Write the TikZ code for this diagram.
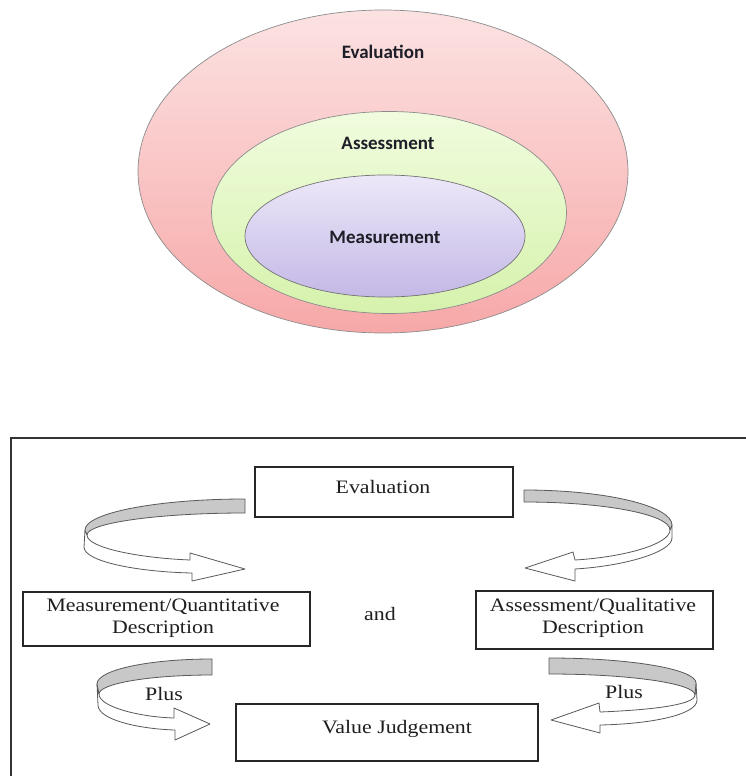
\documentclass[tikz,border=0pt]{standalone}
\usepackage{fontspec}
\setmainfont{Liberation Serif}
\newfontfamily\calib{Carlito}
\newfontfamily\tserif[FakeStretch=1.15]{Liberation Serif}
\definecolor{pinkT}{RGB}{252,226,226}
\definecolor{pinkB}{RGB}{247,168,168}
\definecolor{greenT}{RGB}{240,252,222}
\definecolor{greenB}{RGB}{214,242,172}
\definecolor{purpT}{RGB}{236,232,248}
\definecolor{purpB}{RGB}{196,184,230}
\definecolor{ribgray}{RGB}{200,200,200}
\definecolor{inkc}{RGB}{30,30,40}
\tikzset{
  ellline/.style={draw=black!45, line width=0.7pt},
  toplbl/.style={font=\calib\bfseries\fontsize{19}{22}\selectfont, text=inkc, inner sep=0},
  box/.style={draw=black!85, line width=1.4pt, rectangle, inner sep=0},
  txt/.style={font=\tserif\fontsize{19}{22}\selectfont, text=black!88, inner sep=0, align=center},
  ribback/.style={fill=ribgray, draw=black!65, line width=0.8pt, line join=round},
  ribfront/.style={fill=white, draw=black!65, line width=0.8pt, line join=round},
  frame/.style={draw=black!80, line width=1.3pt}
}
\begin{document}
\begin{tikzpicture}[x=1pt,y=-1pt]
\useasboundingbox (0,0) rectangle (746,776);
\fill[white] (0,0) rectangle (746,776);

% nested ellipses
\path[ellline, top color=pinkT, bottom color=pinkB] (383,171.5) ellipse [x radius=245pt, y radius=161.5pt];
\path[ellline, top color=greenT, bottom color=greenB] (389,212.5) ellipse [x radius=177.5pt, y radius=101pt];
\path[ellline, draw=black!55, top color=purpT, bottom color=purpB] (385,236) ellipse [x radius=140pt, y radius=61pt];
\node[toplbl] (lEval) at (383,52) {Evaluation};
\node[toplbl] (lAss) at (388,143) {Assessment};
\node[toplbl] (lMeas) at (385,237) {Measurement};

% frame
\coordinate (fr1) at (746,438);
\coordinate (fr2) at (11,438);
\coordinate (fr3) at (11,776);
\draw[frame] (fr1) -- (fr2) -- (fr3);

% boxes
\node[box, minimum width=258pt, minimum height=50pt] (bEval) at (384,492) {};
\node[box, minimum width=287pt, minimum height=54pt] (bMeas) at (166.5,619) {};
\node[box, minimum width=237pt, minimum height=58pt] (bAss) at (594.5,620) {};
\node[box, minimum width=302pt, minimum height=57pt] (bVal) at (387,732.5) {};

\node[txt] (xEval) at (383,487) {Evaluation};
\node[txt] (xMeas) at (163,618) {Measurement/Quantitative\\Description};
\node[txt] (xAss) at (593,617.5) {Assessment/Qualitative\\Description};
\node[txt] (xAnd) at (380,614) {and};
\node[txt] (xVal) at (397,729) {Value Judgement};
\node[txt] (xPlusL) at (164,694) {Plus};
\node[txt] (xPlusR) at (624,692) {Plus};

% top-left ribbon arrow
\path[ribfront] (85,530) -- (84,547) .. controls (84,562) and (140,572) .. (192,573)
  -- (192,581) -- (245,569) -- (190,553) -- (190,560)
  .. controls (140,558) and (87,548) .. (87,535) -- cycle;
\path[ribback] (245,499) .. controls (157,499) and (85,513) .. (85,530) -- (87,535)
  .. controls (87,523) and (158,513) .. (245,513) -- cycle;

% top-right ribbon arrow
\path[ribfront] (672,525) -- (672,538) .. controls (672,552) and (625,566) .. (575,569)
  -- (575,581) -- (525,568) -- (573,552) -- (575,560)
  .. controls (625,557) and (670,544) .. (670,530) -- cycle;
\path[ribback] (524,490) .. controls (606,490) and (672,506) .. (672,525) -- (670,530)
  .. controls (670,514.5) and (605,502) .. (524,502) -- cycle;

% lower-left ribbon arrow
\path[ribfront] (97,684) -- (98,705) .. controls (98,720) and (140,729) .. (175,730)
  -- (175,740) -- (210,724) -- (174,708) -- (174,718)
  .. controls (140,717) and (99,707) .. (99,694) -- cycle;
\path[ribback] (212,659) .. controls (148.5,659) and (97,670) .. (97,684) -- (99,694)
  .. controls (99,683.5) and (150,675) .. (212,675) -- cycle;

% lower-right ribbon arrow
\path[ribfront] (696,683) -- (697,700) .. controls (697,715) and (650,724) .. (600,725)
  -- (600,733) -- (551,720) -- (599,703) -- (600,712)
  .. controls (650,710) and (695,705) .. (695,695) -- cycle;
\path[ribback] (549,658) .. controls (630,658) and (696,669) .. (696,683) -- (695,695)
  .. controls (695,683.4) and (629.6,674) .. (549,674) -- cycle;
\end{tikzpicture}
\end{document}
